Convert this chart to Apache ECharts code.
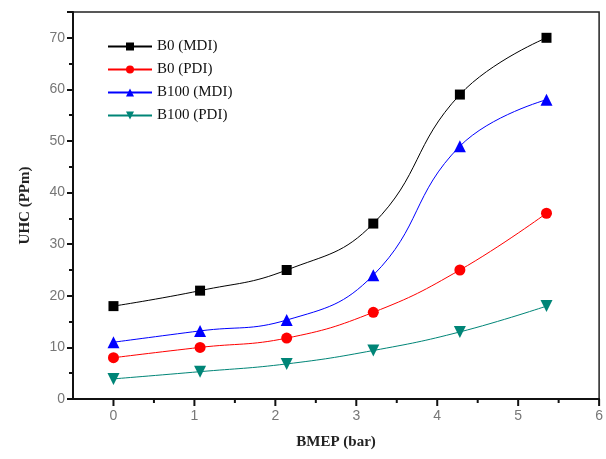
<!DOCTYPE html>
<html>
<head>
<meta charset="utf-8">
<script src="https://cdn.jsdelivr.net/npm/echarts@6/dist/echarts.min.js"></script>
<style>
  html, body { margin: 0; padding: 0; background: #fff; }
  #chart { width: 606px; height: 459px; }
</style>
</head>
<body>
<div id="chart"></div>
<script>
// BMEP values (bar)
var bmep = [0, 1.07, 2.14, 3.21, 4.28, 5.35];

// UHC (ppm) per fuel / injection mode
var b0Mdi = [18, 21, 25, 34, 59, 70];
var b0Pdi = [8, 10, 11.8, 16.8, 25, 36];
var b100Mdi = [11, 13.2, 15.3, 24, 49, 58];
var b100Pdi = [3.9, 5.3, 6.8, 9.4, 13, 18];

var xTicks = [0, 1, 2, 3, 4, 5, 6];
var xMinorTicks = [0.5, 1.5, 2.5, 3.5, 4.5, 5.5];
var yTicks = [0, 10, 20, 30, 40, 50, 60, 70];

var seriesNames = ['B0 (MDI)', 'B0 (PDI)', 'B100 (MDI)', 'B100 (PDI)'];

function pairs(ys) {
    return ys.map(function(y, i) { return [bmep[i], y]; });
}

function createViz() {
    var myChart = echarts.init(document.getElementById('chart'));

    function line(name, ys, color, symbol, size, rotate) {
        return {
            name: name,
            type: 'line',
            smooth: 0.45,
            data: pairs(ys),
            symbol: symbol,
            symbolSize: size,
            symbolRotate: rotate || 0,
            itemStyle: { color: color },
            lineStyle: { color: color, width: 1 }
        };
    }

    // x ticks drawn as a custom series (axis ticks would not show with min -0.5)
    function ticks(values, len) {
        return {
            type: 'custom',
            silent: true,
            clip: false,
            data: values.map(function(v) { return [v, 0]; }),
            renderItem: function(params, api) {
                var p = api.coord([api.value(0), 0]);
                return {
                    type: 'line',
                    shape: { x1: p[0], y1: p[1], x2: p[0], y2: p[1] + len },
                    style: { stroke: '#111', lineWidth: 2 }
                };
            }
        };
    }

    var axisName = {
        fontFamily: 'Liberation Serif',
        fontWeight: 'bold',
        fontSize: 15,
        color: '#222'
    };
    var tickLine = { color: '#111', width: 2 };

    var option = {
        animation: false,
        backgroundColor: '#fff',
        grid: {
            left: 73,
            right: 6,
            top: 12,
            bottom: 60,
            show: true,
            borderColor: '#222',
            borderWidth: 1.5
        },
        legend: {
            orient: 'vertical',
            left: 102,
            top: 34,
            itemWidth: 44,
            itemHeight: 10,
            itemGap: 8,
            textStyle: {
                fontFamily: 'Liberation Serif',
                fontSize: 15,
                color: '#111'
            },
            data: seriesNames
        },
        xAxis: {
            type: 'value',
            min: -0.5,
            max: 6,
            interval: 0.5,
            name: 'BMEP (bar)',
            nameLocation: 'middle',
            nameGap: 36,
            nameTextStyle: axisName,
            axisLine: { show: true, onZero: false, lineStyle: tickLine },
            axisTick: { show: false },
            axisLabel: {
                color: '#777',
                fontFamily: 'Liberation Sans',
                fontSize: 14,
                margin: 10,
                customValues: xTicks
            },
            splitLine: { show: false }
        },
        yAxis: {
            type: 'value',
            min: 0,
            max: 75,
            interval: 10,
            name: 'UHC (PPm)',
            nameLocation: 'middle',
            nameGap: 40,
            nameTextStyle: axisName,
            axisLine: { show: true, onZero: false, lineStyle: tickLine },
            axisTick: { show: true, length: 6, lineStyle: tickLine },
            minorTick: { show: true, splitNumber: 2, length: 4, lineStyle: tickLine },
            axisLabel: {
                color: '#777',
                fontFamily: 'Liberation Sans',
                fontSize: 14,
                margin: 8,
                customValues: yTicks
            },
            splitLine: { show: false }
        },
        series: [
            line(seriesNames[0], b0Mdi, '#000000', 'rect', 10),
            line(seriesNames[1], b0Pdi, '#ff0000', 'circle', 11),
            line(seriesNames[2], b100Mdi, '#0000ff', 'triangle', 12),
            line(seriesNames[3], b100Pdi, '#008577', 'triangle', 12, 180),
            ticks(xTicks, 7),
            ticks(xMinorTicks, 4)
        ]
    };

    myChart.setOption(option);
}

createViz();
</script>
</body>
</html>
